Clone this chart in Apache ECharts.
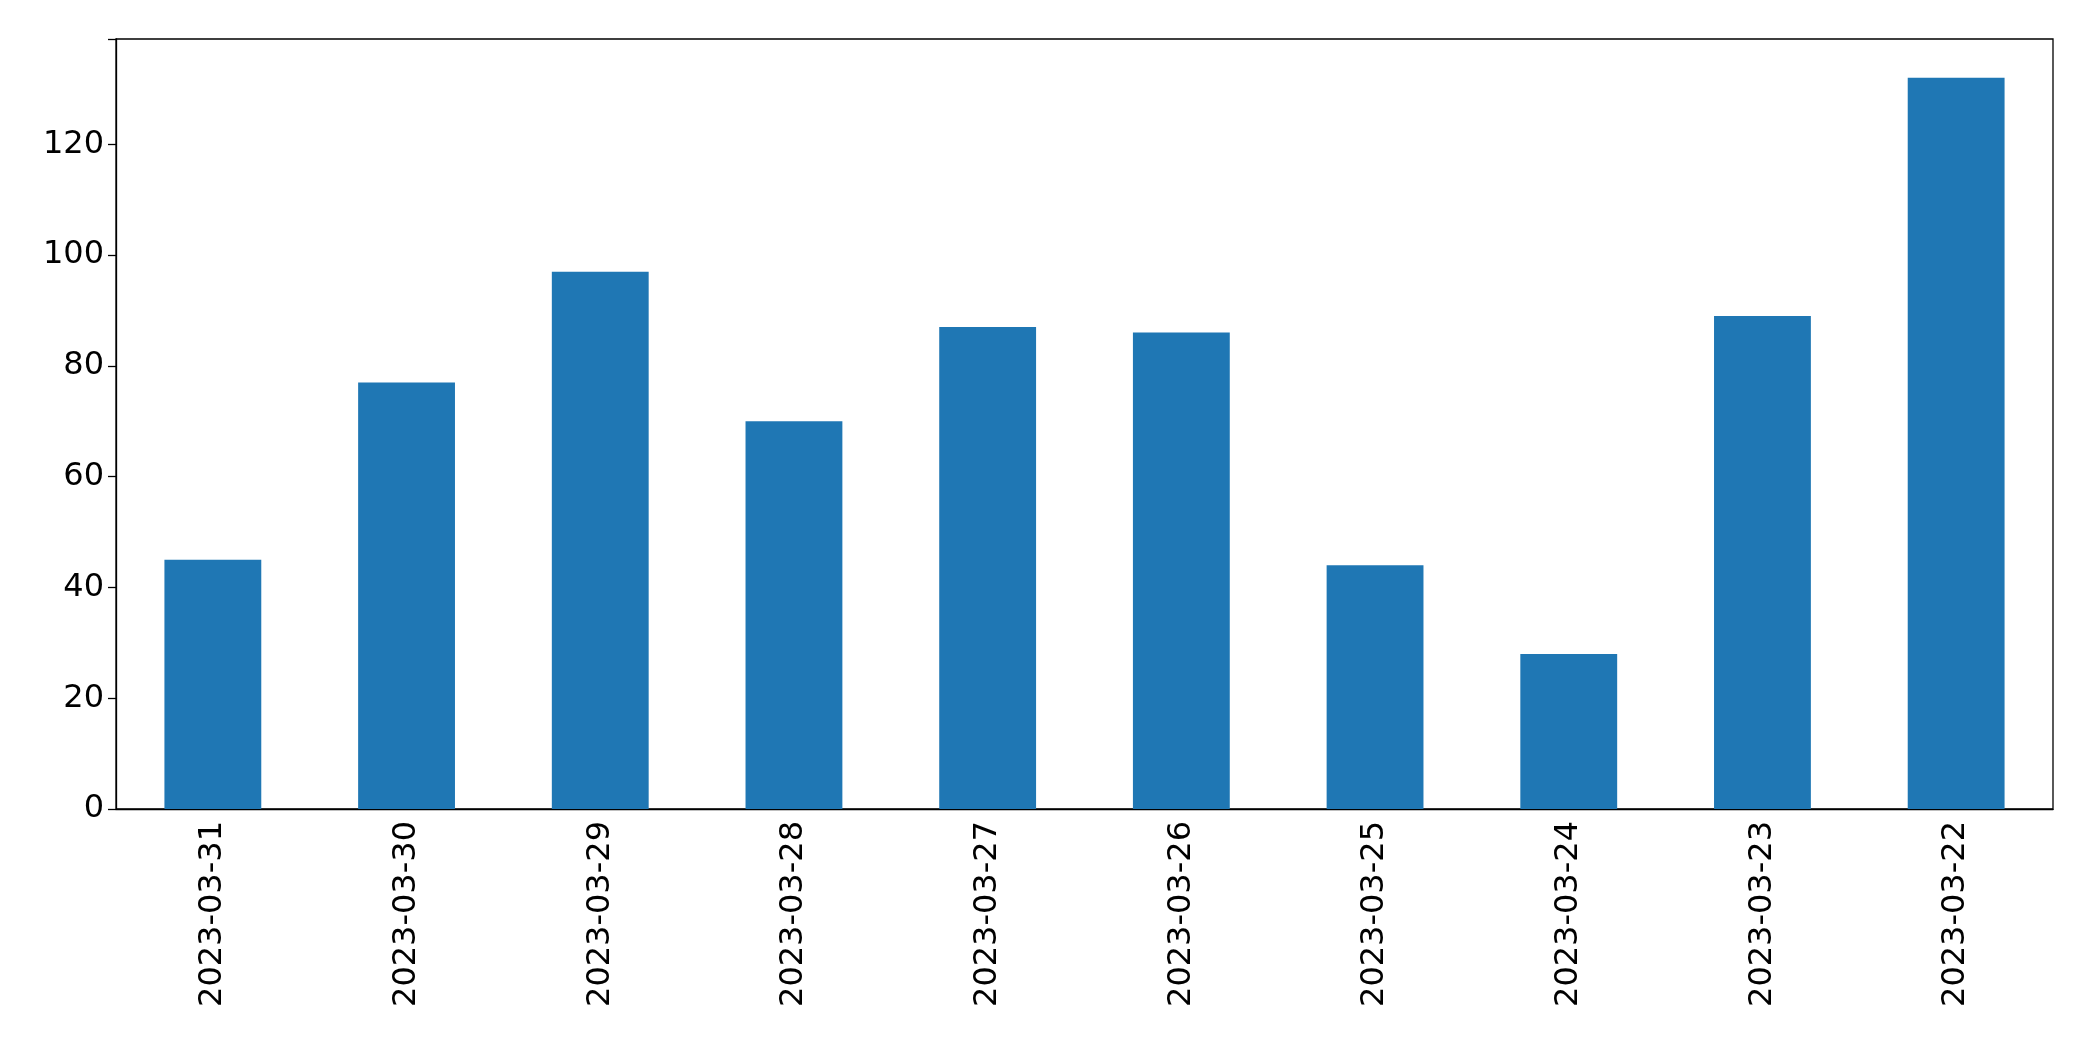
<!DOCTYPE html>
<html><head><meta charset="utf-8">
<script src="https://cdn.jsdelivr.net/npm/echarts@6/dist/echarts.min.js"></script>
<style>html,body{margin:0;padding:0;background:#fff}#c{width:2093px;height:1061px}</style>
</head><body><div id="c"></div>
<script>
const categories = ["2023-03-31","2023-03-30","2023-03-29","2023-03-28","2023-03-27","2023-03-26","2023-03-25","2023-03-24","2023-03-23","2023-03-22"];
const values = [45,77,97,70,87,86,44,28,89,132];
const chart = echarts.init(document.getElementById('c'));
chart.setOption({
  animation:false,
  grid:{left:116,right:40,top:39,bottom:252,show:true,borderColor:'#000',borderWidth:1.3},
  xAxis:{type:'category',data:categories,boundaryGap:true,
    axisLine:{lineStyle:{color:'#000',width:1.3}},
    axisTick:{alignWithLabel:true,length:8,lineStyle:{color:'#000',width:1.3}},
    axisLabel:{rotate:90,color:'#000',fontSize:32,fontFamily:'DejaVu Sans',margin:12}},
  yAxis:{type:'value',min:0,max:139,interval:20,
    axisLine:{show:true,lineStyle:{color:'#000',width:1.3}},
    axisTick:{show:true,length:8,lineStyle:{color:'#000',width:1.3}},
    splitLine:{show:false},
    axisLabel:{color:'#000',fontSize:32,fontFamily:'DejaVu Sans',margin:12,
      formatter:v=>v%20===0?v:''}},
  series:[{type:'bar',data:values,barWidth:'50%',itemStyle:{color:'#1f77b4'}}]
});
</script></body></html>
